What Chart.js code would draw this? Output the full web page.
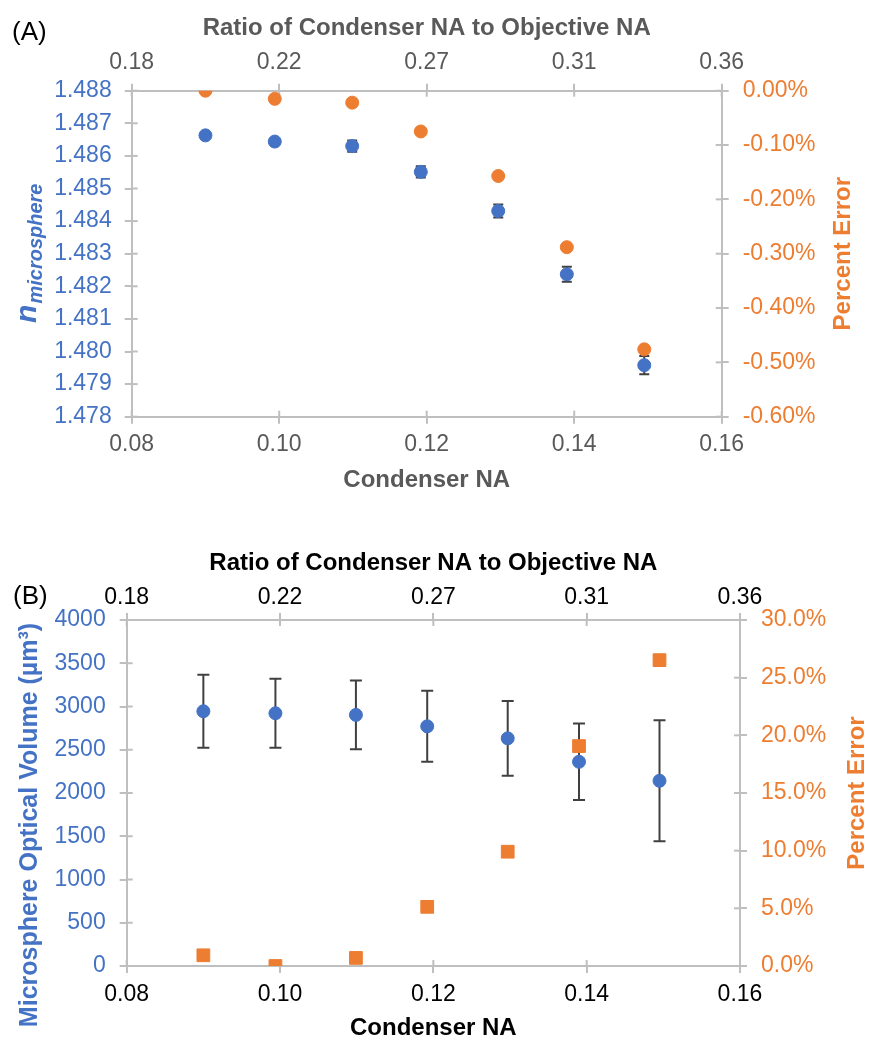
<!DOCTYPE html>
<html>
<head>
<meta charset="utf-8">
<script src="https://cdn.jsdelivr.net/npm/chart.js@4"></script>
<style>
body { margin: 0; background: #fff; }
#wrap { position: relative; width: 875px; height: 1050px; }
.panel { position: absolute; left: 0; width: 875px; }
.tag { position: absolute; font: 26px 'Liberation Sans', Arial, sans-serif; color: #000; }
</style>
</head>
<body>
<div id="wrap">
  <div class="panel" style="top:0;height:510px"><canvas id="chartA"></canvas></div>
  <div class="panel" style="top:510px;height:540px"><canvas id="chartB"></canvas></div>
  <div class="tag" style="left:12px;top:16px">(A)</div>
  <div class="tag" style="left:13px;top:580px">(B)</div>
</div>
<script>
Chart.defaults.font.family = "'Liberation Sans', Arial, sans-serif";
Chart.defaults.color = '#595959';

// shared x values (condenser NA) and top axis labels
const condenserNA = [0.0900, 0.0994, 0.1099, 0.1192, 0.1297, 0.1390, 0.1495];
const ratioLabels = ['0.18', '0.22', '0.27', '0.31', '0.36'];

// (A) refractive index of the microsphere
const nMicro = [1.48663, 1.48644, 1.48630, 1.48551, 1.48431, 1.48237, 1.47958];
const nMicroErr = [0.00008, 0.00008, 0.00017, 0.00017, 0.00020, 0.00023, 0.00028];
const nPercentError = [0.000, -0.015, -0.022, -0.075, -0.157, -0.288, -0.476];

// (B) optical volume
const volume = [2945, 2922, 2903, 2771, 2632, 2361, 2141];
const volumeErr = [421, 400, 397, 411, 433, 442, 700];
const volPercentError = [0.93, 0.0, 0.70, 5.13, 9.91, 19.07, 26.52];

const BLUE = '#4472C4';
const ORANGE = '#ED7D31';
const GREY = '#595959';
const AXIS = '#BFBFBF';

const pts = (xs, ys) => xs.map((x, i) => ({ x: x, y: ys[i] }));
const fix = px => scale => { if (scale.isHorizontal()) scale.height = px; else scale.width = px; };
const grid = { drawOnChartArea: false, color: AXIS, lineWidth: 2, tickLength: 7 };
const border = { color: AXIS, width: 2 };
const clean = v => (Math.abs(v) < 1e-9 ? 0 : v);

// vertical error bars, drawn under the markers
const errorBars = {
  id: 'errorBars',
  beforeDatasetsDraw(chart, args, opts) {
    const meta = chart.getDatasetMeta(opts.dataset);
    const ds = chart.data.datasets[opts.dataset];
    const ys = chart.scales[meta.yAxisID];
    const ctx = chart.ctx;
    ctx.save();
    ctx.strokeStyle = opts.color;
    ctx.lineWidth = opts.width;
    meta.data.forEach((p, i) => {
      const v = ds.data[i].y, e = opts.errors[i];
      const top = ys.getPixelForValue(v + e), bot = ys.getPixelForValue(v - e);
      ctx.beginPath();
      ctx.moveTo(p.x, top); ctx.lineTo(p.x, bot);
      ctx.moveTo(p.x - opts.cap, top); ctx.lineTo(p.x + opts.cap, top);
      ctx.moveTo(p.x - opts.cap, bot); ctx.lineTo(p.x + opts.cap, bot);
      ctx.stroke();
    });
    ctx.restore();
  }
};

// tick marks crossing into the plot area
const innerTicks = {
  id: 'innerTicks',
  beforeDatasetsDraw(chart, args, opts) {
    const ctx = chart.ctx, a = chart.chartArea, len = opts.len;
    ctx.save();
    ctx.strokeStyle = AXIS;
    ctx.lineWidth = 2;
    Object.values(chart.scales).forEach(s => {
      s.ticks.forEach((t, i) => {
        const p = s.getPixelForTick(i);
        ctx.beginPath();
        if (s.position === 'left') { ctx.moveTo(a.left, p); ctx.lineTo(a.left + len, p); }
        if (s.position === 'right') { ctx.moveTo(a.right, p); ctx.lineTo(a.right - len, p); }
        if (s.position === 'top') { ctx.moveTo(p, a.top); ctx.lineTo(p, a.top + len); }
        if (s.position === 'bottom') { ctx.moveTo(p, a.bottom); ctx.lineTo(p, a.bottom - len); }
        ctx.stroke();
      });
    });
    ctx.restore();
  }
};

// rotated side titles: right one, and the left one (with optional subscript)
const sideTitles = {
  id: 'sideTitles',
  afterDraw(chart, args, opts) {
    const ctx = chart.ctx, a = chart.chartArea;
    const cy = (a.top + a.bottom) / 2;
    const fam = Chart.defaults.font.family;
    ctx.save();
    ctx.translate(chart.width - opts.rightOffset, cy);
    ctx.rotate(-Math.PI / 2);
    ctx.font = 'bold 24px ' + fam;
    ctx.fillStyle = ORANGE;
    ctx.textAlign = 'center';
    ctx.textBaseline = 'middle';
    ctx.fillText(opts.rightText, 0, 0);
    ctx.restore();

    ctx.save();
    ctx.translate(opts.leftOffset, cy + (opts.leftShift || 0));
    ctx.rotate(-Math.PI / 2);
    ctx.fillStyle = BLUE;
    if (opts.leftSub) {
      ctx.textBaseline = 'alphabetic';
      ctx.textAlign = 'left';
      ctx.font = 'italic bold 30px ' + fam;
      const w1 = ctx.measureText(opts.leftMain).width;
      ctx.font = 'italic bold 20px ' + fam;
      const w2 = ctx.measureText(opts.leftSub).width;
      const x0 = -(w1 + w2) / 2;
      ctx.font = 'italic bold 30px ' + fam;
      ctx.fillText(opts.leftMain, x0, 9);
      ctx.font = 'italic bold 20px ' + fam;
      ctx.fillText(opts.leftSub, x0 + w1 + 1, 15);
    } else {
      ctx.textAlign = 'center';
      ctx.textBaseline = 'middle';
      ctx.font = 'bold ' + opts.leftSize + 'px ' + fam;
      ctx.fillText(opts.leftMain, 0, 0);
    }
    ctx.restore();
  }
};

new Chart(document.getElementById('chartA'), {
  type: 'scatter',
  data: {
    datasets: [
      { label: 'Percent Error', data: pts(condenserNA, nPercentError), xAxisID: 'x', yAxisID: 'y2',
        backgroundColor: ORANGE, borderColor: ORANGE, pointRadius: 6.5, pointHoverRadius: 6.5 },
      { label: 'n microsphere', data: pts(condenserNA, nMicro), xAxisID: 'x', yAxisID: 'y',
        backgroundColor: BLUE, borderColor: BLUE, pointRadius: 6.5, pointHoverRadius: 6.5 }
    ]
  },
  options: {
    responsive: true,
    maintainAspectRatio: false,
    animation: false,
    layout: { padding: 0 },
    plugins: {
      legend: { display: false },
      tooltip: { enabled: false },
      errorBars: { dataset: 1, errors: nMicroErr, color: '#404040', width: 2, cap: 5 },
      innerTicks: { len: 6 },
      sideTitles: { rightText: 'Percent Error', rightOffset: 32, leftMain: 'n', leftSub: 'microsphere', leftOffset: 27 }
    },
    scales: {
      x: {
        type: 'linear', position: 'bottom', min: 0.08, max: 0.16,
        ticks: { stepSize: 0.02, callback: v => v.toFixed(2), color: GREY, font: { size: 23 }, padding: 7 },
        grid: grid, border: border,
        title: { display: true, text: 'Condenser NA', color: GREY, font: { size: 24, weight: 'bold' }, padding: { top: 0, bottom: 15.6 } },
        afterFit: fix(93.3)
      },
      x2: {
        type: 'linear', position: 'top', min: 0.08, max: 0.16,
        ticks: { stepSize: 0.02, callback: (v, i) => ratioLabels[i], color: GREY, font: { size: 23 }, padding: 7 },
        grid: grid, border: border,
        title: { display: true, text: 'Ratio of Condenser NA to Objective NA', color: GREY, font: { size: 24, weight: 'bold' }, padding: { top: 13.6, bottom: 0 } },
        afterFit: fix(90.7)
      },
      y: {
        position: 'left', min: 1.478, max: 1.488,
        ticks: { stepSize: 0.001, maxTicksLimit: 20, callback: v => v.toFixed(3), color: BLUE, font: { size: 23 }, padding: 13 },
        grid: grid, border: border,
        afterFit: fix(131.7)
      },
      y2: {
        position: 'right', min: -0.6, max: 0,
        ticks: { stepSize: 0.1, maxTicksLimit: 20, callback: v => clean(v).toFixed(2) + '%', color: ORANGE, font: { size: 23 }, padding: 14 },
        grid: grid, border: border,
        afterFit: fix(153.3)
      }
    }
  },
  plugins: [errorBars, innerTicks, sideTitles]
});

new Chart(document.getElementById('chartB'), {
  type: 'scatter',
  data: {
    datasets: [
      { label: 'Percent Error', data: pts(condenserNA, volPercentError), xAxisID: 'x', yAxisID: 'y2',
        backgroundColor: ORANGE, borderColor: ORANGE, pointStyle: 'rect', pointRadius: 9, pointHoverRadius: 9 },
      { label: 'Microsphere Optical Volume', data: pts(condenserNA, volume), xAxisID: 'x', yAxisID: 'y',
        backgroundColor: BLUE, borderColor: BLUE, pointRadius: 6.5, pointHoverRadius: 6.5 }
    ]
  },
  options: {
    responsive: true,
    maintainAspectRatio: false,
    animation: false,
    layout: { padding: 0 },
    plugins: {
      legend: { display: false },
      tooltip: { enabled: false },
      errorBars: { dataset: 1, errors: volumeErr, color: '#404040', width: 2, cap: 6 },
      innerTicks: { len: 6 },
      sideTitles: { rightText: 'Percent Error', rightOffset: 18, leftMain: 'Microsphere Optical Volume (µm³)', leftSize: 25, leftOffset: 30, leftShift: 32 }
    },
    scales: {
      x: {
        type: 'linear', position: 'bottom', min: 0.08, max: 0.16,
        ticks: { stepSize: 0.02, callback: v => v.toFixed(2), color: '#000', font: { size: 23 }, padding: 8 },
        grid: grid, border: border,
        title: { display: true, text: 'Condenser NA', color: '#000', font: { size: 24, weight: 'bold' }, padding: { top: 0, bottom: 7.6 } },
        afterFit: fix(84)
      },
      x2: {
        type: 'linear', position: 'top', min: 0.08, max: 0.16,
        ticks: { stepSize: 0.02, callback: (v, i) => ratioLabels[i], color: '#000', font: { size: 23 }, padding: 2 },
        grid: grid, border: border,
        title: { display: true, text: 'Ratio of Condenser NA to Objective NA', color: '#000', font: { size: 24, weight: 'bold' }, padding: { top: 38.6, bottom: 0 } },
        afterFit: fix(110)
      },
      y: {
        position: 'left', min: 0, max: 4000,
        ticks: { stepSize: 500, callback: v => String(v), color: BLUE, font: { size: 23 }, padding: 14 },
        grid: grid, border: border,
        afterFit: fix(126.7)
      },
      y2: {
        position: 'right', min: 0, max: 30,
        ticks: { stepSize: 5, callback: v => clean(v).toFixed(1) + '%', color: ORANGE, font: { size: 23 }, padding: 14 },
        grid: grid, border: border,
        afterFit: fix(135)
      }
    }
  },
  plugins: [errorBars, innerTicks, sideTitles]
});
</script>
</body>
</html>
